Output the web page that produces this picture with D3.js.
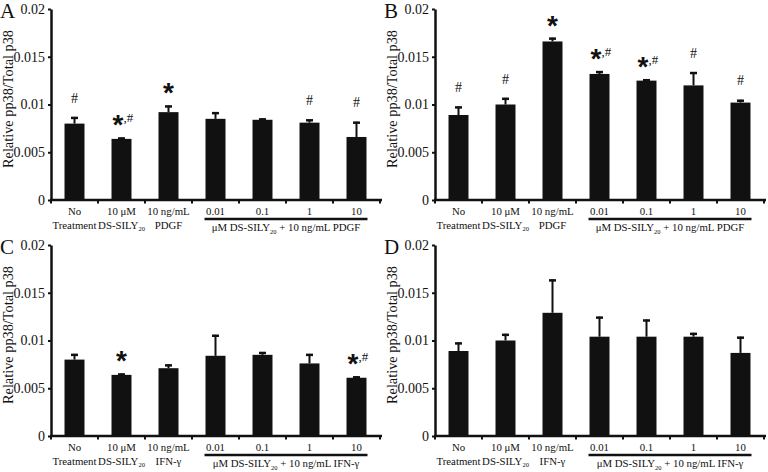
<!DOCTYPE html>
<html><head><meta charset="utf-8">
<script src="https://cdn.jsdelivr.net/npm/d3@7/dist/d3.min.js"></script>
<style>
body{margin:0;background:#fff;}
svg{display:block;}
text{font-family:"Liberation Serif","Times New Roman",serif;fill:#111;}
</style></head>
<body>
<svg id="chart" width="768" height="472"></svg>
<script>
// ---------- data ----------
const panelLetters = ["A", "B", "C", "D"];
const yTicks = [0, 0.005, 0.01, 0.015, 0.02];
const yTickLabels = ["0", "0.005", "0.01", "0.015", "0.02"];
const yLabel = "Relative pp38/Total p38";

const catLine1PDGF = ["No", "10 μM", "10 ng/mL", "0.01", "0.1", "1", "10"];
const catLine2PDGF = ["Treatment", "DS-SILY|20", "PDGF", "", "", "", ""];
const catLine1IFN = ["No", "10 μM", "10 ng/mL", "0.01", "0.1", "1", "10"];
const catLine2IFN = ["Treatment", "DS-SILY|20", "IFN-γ", "", "", "", ""];
const groupLabelPDGF = ["μM DS-SILY", "20", " + 10 ng/mL PDGF"];
const groupLabelIFN = ["μM DS-SILY", "20", " + 10 ng/mL IFN-γ"];

const meanA = [0.0080, 0.0064, 0.0092, 0.0085, 0.0084, 0.0081, 0.0066];
const errA  = [0.0007, 0.00015, 0.0007, 0.0007, 0.00015, 0.00035, 0.0016];
const markA = ["#", "*,#", "*", "", "", "#", "#"];

const meanB = [0.0089, 0.0100, 0.0166, 0.0132, 0.0125, 0.0120, 0.0102];
const errB  = [0.0009, 0.0007, 0.0004, 0.0003, 0.00015, 0.0014, 0.0003];
const markB = ["#", "#", "*", "*,#", "*,#", "#", "#"];

const meanC = [0.0080, 0.0064, 0.0071, 0.0084, 0.0085, 0.0076, 0.0061];
const errC  = [0.0006, 0.00015, 0.0004, 0.0022, 0.0003, 0.0010, 0.00015];
const markC = ["", "*", "", "", "", "", "*,#"];

const meanD = [0.0089, 0.0100, 0.0129, 0.0104, 0.0104, 0.0104, 0.0087];
const errD  = [0.0009, 0.0007, 0.0035, 0.0021, 0.0018, 0.0004, 0.0017];
const markD = ["", "", "", "", "", "", ""];

const panels = [
  {letter: panelLetters[0], mean: meanA, err: errA, mark: markA, l1: catLine1PDGF, l2: catLine2PDGF, grp: groupLabelPDGF, ox: 0, oy: 0},
  {letter: panelLetters[1], mean: meanB, err: errB, mark: markB, l1: catLine1PDGF, l2: catLine2PDGF, grp: groupLabelPDGF, ox: 384, oy: 0},
  {letter: panelLetters[2], mean: meanC, err: errC, mark: markC, l1: catLine1IFN, l2: catLine2IFN, grp: groupLabelIFN, ox: 0, oy: 236},
  {letter: panelLetters[3], mean: meanD, err: errD, mark: markD, l1: catLine1IFN, l2: catLine2IFN, grp: groupLabelIFN, ox: 384, oy: 236}
];

// ---------- drawing ----------
const svg = d3.select("#chart");
const plotLeft = 51, plotTop = 9, plotH = 191, plotW = 329;
const ink = "#111";
const starFont = "'Liberation Sans',Arial,sans-serif";

function drawPanel(p) {
  const root = svg.append("g").attr("transform", `translate(${p.ox},${p.oy})`);
  root.append("text").attr("x", 0).attr("y", 18).attr("font-size", 21).text(p.letter);

  root.append("text")
    .attr("transform", `translate(13,${plotTop + 90}) rotate(-90)`)
    .attr("text-anchor", "middle").attr("font-size", 14.3).text(yLabel);

  const g = root.append("g").attr("transform", `translate(${plotLeft},${plotTop})`);
  const idx = d3.range(p.mean.length);
  const y = d3.scaleLinear().domain([0, 0.02]).range([plotH, 0]);
  const xStep = d3.scaleBand().domain(idx).range([0, plotW]).padding(0);
  const xBar = d3.scaleBand().domain(idx).range([0, plotW]).paddingInner(0.575).paddingOuter(0.2875);

  // bars
  g.selectAll("rect.bar").data(idx).join("rect")
    .attr("x", i => xBar(i)).attr("width", xBar.bandwidth())
    .attr("y", i => y(p.mean[i])).attr("height", i => plotH - y(p.mean[i]))
    .attr("fill", ink);

  // error bars
  const cx = i => xBar(i) + xBar.bandwidth() / 2;
  g.selectAll("line.err").data(idx).join("line")
    .attr("x1", cx).attr("x2", cx)
    .attr("y1", i => y(p.mean[i])).attr("y2", i => y(p.mean[i] + p.err[i]))
    .attr("stroke", ink).attr("stroke-width", 2);
  g.selectAll("line.cap").data(idx).join("line")
    .attr("x1", i => cx(i) - 3.5).attr("x2", i => cx(i) + 3.5)
    .attr("y1", i => y(p.mean[i] + p.err[i]) + 1).attr("y2", i => y(p.mean[i] + p.err[i]) + 1)
    .attr("stroke", ink).attr("stroke-width", 2.5);

  // significance marks
  idx.forEach(i => {
    const m = p.mark[i];
    if (!m) return;
    const cy = y(p.mean[i] + p.err[i]) - 19;
    if (m === "#") {
      g.append("text").attr("x", cx(i)).attr("y", cy + 4.7).attr("text-anchor", "middle")
        .attr("font-size", 14).text("#");
    } else if (m === "*") {
      g.append("text").attr("x", cx(i)).attr("y", cy + 16).attr("text-anchor", "middle")
        .style("font-family", starFont).attr("font-weight", "bold").attr("font-size", 28).text("*");
    } else {
      g.append("text").attr("x", cx(i) + 2).attr("y", cy + 16).attr("text-anchor", "end")
        .style("font-family", starFont).attr("font-weight", "bold").attr("font-size", 28).text("*");
      g.append("text").attr("x", cx(i) + 2).attr("y", cy + 4).attr("text-anchor", "start")
        .attr("font-size", 13).text(",#");
    }
  });

  // y axis
  const yAxis = d3.axisLeft(y).tickValues(yTicks).tickFormat((d, k) => yTickLabels[k])
    .tickSize(3).tickSizeOuter(0).tickPadding(3);
  const ya = g.append("g").call(yAxis);
  ya.select(".domain").attr("stroke", ink).attr("stroke-width", 2.5);
  ya.selectAll(".tick line").attr("stroke", ink).attr("stroke-width", 2);
  ya.selectAll(".tick text").attr("font-size", 14).style("font-family", "'Liberation Serif',serif").attr("fill", ink);

  // x axis
  g.append("line").attr("x1", -1).attr("x2", plotW + 2).attr("y1", plotH).attr("y2", plotH)
    .attr("stroke", ink).attr("stroke-width", 2.5);
  g.selectAll("line.xt").data(d3.range(p.mean.length + 1)).join("line")
    .attr("x1", k => k * xStep.step()).attr("x2", k => k * xStep.step())
    .attr("y1", plotH).attr("y2", plotH + 3.5)
    .attr("stroke", ink).attr("stroke-width", 2);

  // category labels
  idx.forEach(i => {
    const x = xStep(i) + xStep.bandwidth() / 2;
    g.append("text").attr("x", x).attr("y", plotH + 15).attr("text-anchor", "middle")
      .attr("font-size", 10.8).text(p.l1[i]);
    if (p.l2[i]) {
      const parts = p.l2[i].split("|");
      const t = g.append("text").attr("x", x).attr("y", plotH + 28.5).attr("text-anchor", "middle")
        .attr("font-size", 10.8);
      t.append("tspan").text(parts[0]);
      if (parts[1]) t.append("tspan").attr("font-size", 6.5).attr("dy", 2.5).text(parts[1]);
    }
  });

  // group line and label
  const gx1 = xBar(3) - 1, gx2 = xBar(6) + xBar.bandwidth() + 1;
  g.append("line").attr("x1", gx1).attr("x2", gx2).attr("y1", plotH + 19).attr("y2", plotH + 19)
    .attr("stroke", ink).attr("stroke-width", 2.5);
  const gt = g.append("text").attr("x", (gx1 + gx2) / 2).attr("y", plotH + 31).attr("text-anchor", "middle")
    .attr("font-size", 10.8);
  gt.append("tspan").text(p.grp[0]);
  gt.append("tspan").attr("font-size", 6.5).attr("dy", 2.5).text(p.grp[1]);
  gt.append("tspan").attr("dy", -2.5).text(p.grp[2]);
}

panels.forEach(drawPanel);
</script>
</body></html>
